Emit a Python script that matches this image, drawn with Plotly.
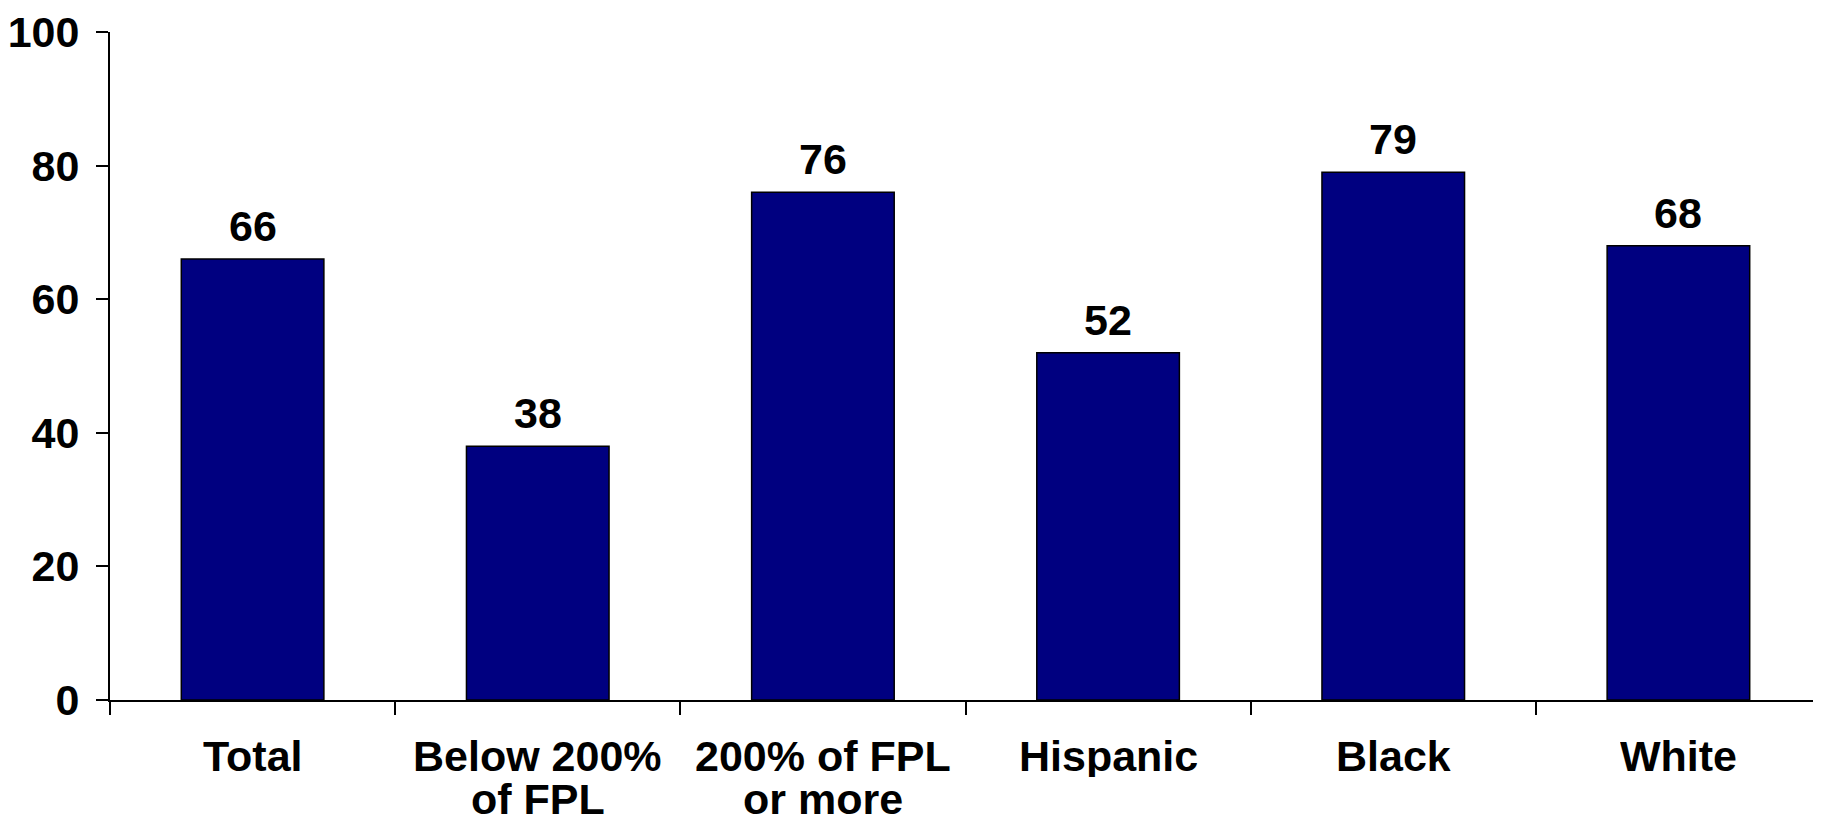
import plotly.graph_objects as go

categories = ["Total", "Below 200%<br>of FPL", "200% of FPL<br>or more", "Hispanic", "Black", "White"]
label_line1 = ["Total", "Below 200%", "200% of FPL", "Hispanic", "Black", "White"]
label_line2 = ["", "of FPL", "or more", "", "", ""]
values = [66, 38, 76, 52, 79, 68]
y_ticks = [0, 20, 40, 60, 80, 100]

FONT = "Liberation Sans, Arial, sans-serif"
FS = 43

fig = go.Figure()
fig.add_trace(go.Bar(
    x=categories, y=values,
    marker=dict(color="#000080", line=dict(color="#000000", width=1.5)),
    width=0.5,
    hoverinfo="x+y",
))

annotations = []
for c, v in zip(categories, values):
    annotations.append(dict(x=c, y=v, xref="x", yref="y", text=str(v), showarrow=False,
                            yshift=33, yanchor="middle",
                            font=dict(family=FONT, size=FS, color="#000000", weight="bold")))
for c, l1, l2 in zip(categories, label_line1, label_line2):
    annotations.append(dict(x=c, y=0, xref="x", yref="y", text=l1, showarrow=False,
                            yshift=-56, yanchor="middle", height=42, valign="middle",
                            font=dict(family=FONT, size=FS, color="#000000", weight="bold")))
    if l2:
        annotations.append(dict(x=c, y=0, xref="x", yref="y", text=l2, showarrow=False,
                                yshift=-99, yanchor="middle", height=42, valign="middle",
                                font=dict(family=FONT, size=FS, color="#000000", weight="bold")))

fig.update_layout(
    width=1813, height=815,
    margin=dict(l=102, r=0, t=21, b=123),
    paper_bgcolor="white", plot_bgcolor="white",
    showlegend=False,
    annotations=annotations,
    xaxis=dict(
        type="category", range=[-0.5, 5.5],
        showline=True, linecolor="#000000", linewidth=2,
        ticks="outside", tickson="boundaries", ticklen=13, tickwidth=2, tickcolor="#000000",
        showticklabels=False, showgrid=False, zeroline=False,
    ),
    yaxis=dict(
        range=[0, 100], tickvals=y_ticks,
        showline=True, linecolor="#000000", linewidth=2,
        ticks="outside", ticklen=12, tickwidth=2, tickcolor="#000000",
        ticklabelstandoff=8, ticklabeloverflow="allow",
        tickfont=dict(family=FONT, size=FS, color="#000000", weight="bold"),
        showgrid=False, zeroline=False,
    ),
)

fig.write_html("out.html")
